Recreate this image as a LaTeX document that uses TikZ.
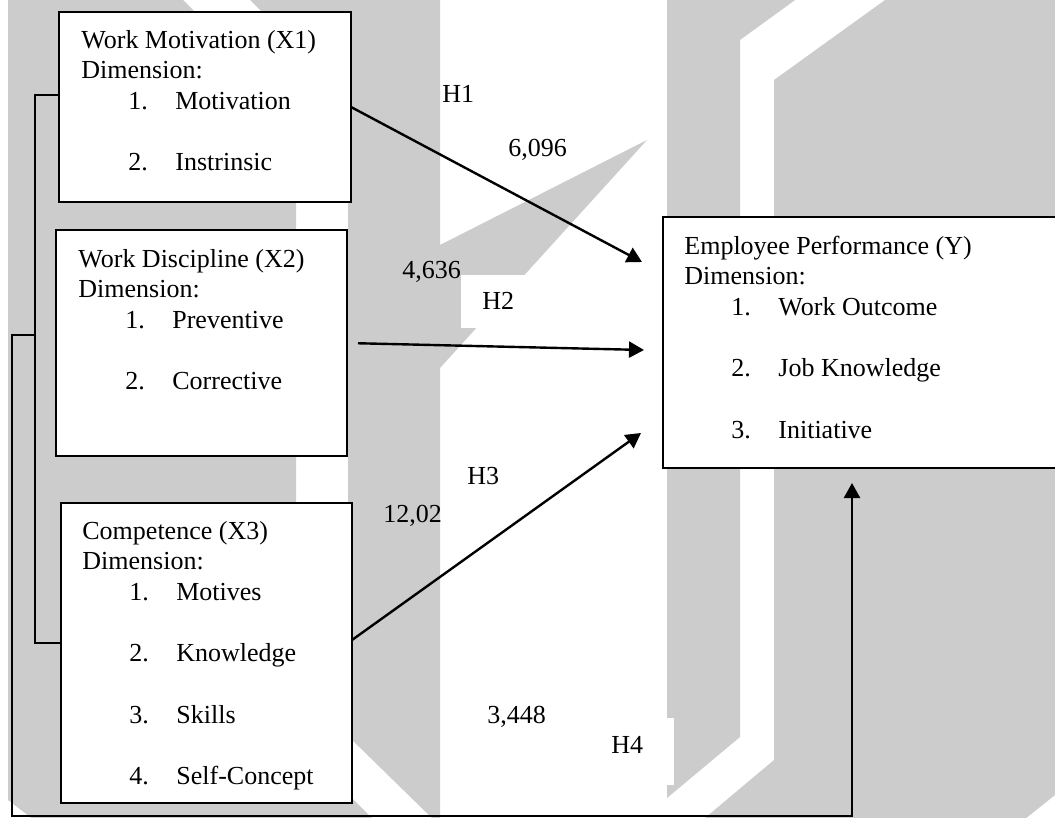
\documentclass[tikz,border=0pt]{standalone}
\usepackage{fontspec}
\setmainfont{Liberation Serif}
\usetikzlibrary{arrows.meta,calc}
\definecolor{wmgray}{RGB}{204,204,204}
\newcommand{\itm}[2]{\hspace*{23.5pt}\makebox[23.5pt][l]{#1.}#2}
\newcommand{\fl}{\rule{0pt}{18pt}}

\begin{document}
\begin{tikzpicture}[x=0.5pt,y=-0.5pt,
    font=\fontsize{13}{15.2}\selectfont,
    frame/.style={draw,fill=white,line width=1.25pt,anchor=north west,inner sep=0pt,outer sep=0pt},
    boxtext/.style={anchor=north west,inner sep=0pt,align=left},
    lab/.style={anchor=base west,inner sep=0pt},
    conn/.style={line width=1.2pt},
    arr/.style={line width=1.2pt,-{Triangle[length=7.5pt,width=8pt]}}]
\useasboundingbox (0,0) rectangle (1055,818);
% watermark in the back
\fill[white] (-5,-5) rectangle (1060,823);
\fill[wmgray] (8,-5) -- (178,-5) -- (296,113) -- (296,742) -- (377,823) -- (38,823) -- (8,800) -- cycle;
\fill[wmgray] (245,-5) -- (440,-5) -- (440,245) -- (647,140) -- (440,368) -- (440,823) -- (437,823) -- (348,736) -- (348,98) -- cycle;
\fill[wmgray] (667,-5) -- (802,-5) -- (740,40) -- (740,737) -- (667,798) -- cycle;
\fill[wmgray] (774,80) -- (892,-5) -- (1060,-5) -- (1060,791) -- (1020,823) -- (699,823) -- (774,760) -- cycle;

% values and hypotheses
\node[lab] (h1) at (442,103) {H1};
\node[lab] (v1) at (508,157) {6,096};
\node[lab] (v2) at (402,279) {4,636};
\node[lab,fill=white,inner xsep=10.5pt,inner ysep=9pt] (h2) at (461,310) {H2};
\node[lab] (h3) at (467,484) {H3};
\node[lab] (v3) at (383,522) {12,02};
\node[lab] (v4) at (487,723) {3,448};
\node[lab,fill=white,inner xsep=15.5pt,inner ysep=9pt,text depth=7pt] (h4) at (580,753) {H4};

% variable boxes
\node[frame,minimum width=146pt,minimum height=95pt] (x1) at (59,12) {};
\node[frame,minimum width=145.5pt,minimum height=113pt] (x2) at (56,230) {};
\node[frame,minimum width=145.5pt,minimum height=150pt] (x3) at (61,503) {};
\node[frame,minimum width=198.5pt,minimum height=125.5pt] (y) at (663,217) {};

\node[boxtext] (x1t) at ($(x1.north west)+(22,0)$) {\fl Work Motivation (X1)\\Dimension:\\\itm{1}{Motivation}\\[15.5pt]\itm{2}{Instrinsic}};
\node[boxtext] (x2t) at ($(x2.north west)+(22,1)$) {\fl Work Discipline (X2)\\Dimension:\\\itm{1}{Preventive}\\[15.5pt]\itm{2}{Corrective}};
\node[boxtext] (x3t) at ($(x3.north west)+(21,0)$) {\fl Competence (X3)\\Dimension:\\\itm{1}{Motives}\\[15.5pt]\itm{2}{Knowledge}\\[15.5pt]\itm{3}{Skills}\\[15.5pt]\itm{4}{Self-Concept}};
\node[boxtext] (yt) at ($(y.north west)+(21,1)$) {\fl Employee Performance (Y)\\Dimension:\\\itm{1}{Work Outcome}\\[15.5pt]\itm{2}{Job Knowledge}\\[15.5pt]\itm{3}{Initiative}};

% arrows
\coordinate (h1tip) at (642,262);
\coordinate (h2tip) at (644,350);
\coordinate (h3tip) at (641,433);
\coordinate (h4tip) at (852,483);
\draw[arr] (x1.east) -- (h1tip);
\draw[arr,shorten <=5.5pt] (x2.east) -- (h2tip);
\draw[arr] ([yshift=6.5pt]x3.east) -- (h3tip);

% bracket on the left
\coordinate (k1) at (35,95);
\coordinate (k2) at (35,643);
\coordinate (k0) at (35,335);
\coordinate (k3) at (12,335);
\coordinate (k4) at (12,816);
\draw[conn] (x1.west |- k1) -- (k1) -- (k2) -- (x3.west |- k2);
\draw[arr] (k0) -- (k3) -- (k4) -| (h4tip);
\end{tikzpicture}
\end{document}
